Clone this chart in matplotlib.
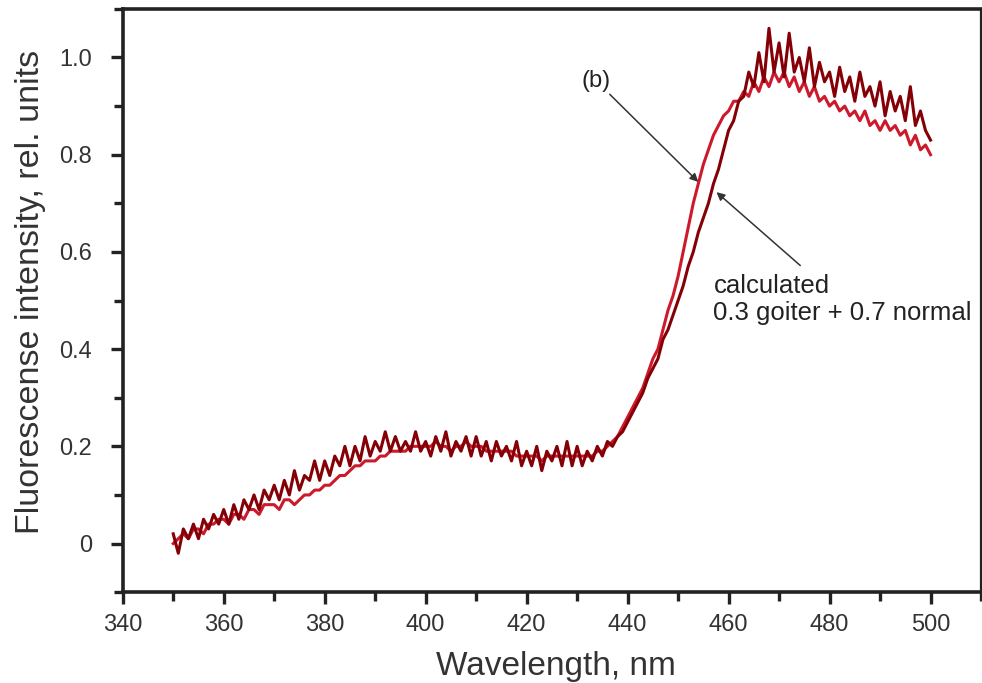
import numpy as np
import matplotlib
matplotlib.use('Agg')
import matplotlib.pyplot as plt
from matplotlib.ticker import MultipleLocator, FuncFormatter

plt.rcParams['font.family'] = ['Liberation Sans', 'DejaVu Sans']

# wavelength grid, nm (1 nm steps, 350..500)
wavelength = np.arange(350, 501, 1)

measured = [
    0.02, -0.02, 0.03, 0.01, 0.04, 0.01, 0.05, 0.03, 0.06, 0.04,
    0.07, 0.04, 0.08, 0.05, 0.09, 0.07, 0.10, 0.07, 0.11, 0.09,
    0.12, 0.09, 0.13, 0.10, 0.15, 0.11, 0.14, 0.13, 0.17, 0.13,
    0.17, 0.14, 0.18, 0.16, 0.20, 0.16, 0.20, 0.17, 0.22, 0.18,
    0.21, 0.19, 0.23, 0.19, 0.22, 0.19, 0.21, 0.19, 0.23, 0.19,
    0.21, 0.18, 0.22, 0.19, 0.23, 0.18, 0.21, 0.19, 0.22, 0.18,
    0.22, 0.18, 0.21, 0.17, 0.21, 0.18, 0.20, 0.17, 0.21, 0.16,
    0.19, 0.16, 0.20, 0.15, 0.19, 0.17, 0.20, 0.16, 0.21, 0.16,
    0.20, 0.16, 0.19, 0.17, 0.20, 0.18, 0.21, 0.20, 0.22, 0.23,
    0.25, 0.27, 0.29, 0.31, 0.34, 0.36, 0.38, 0.42, 0.44, 0.47,
    0.50, 0.53, 0.57, 0.60, 0.64, 0.67, 0.70, 0.74, 0.77, 0.81,
    0.85, 0.87, 0.91, 0.92, 0.97, 0.94, 1.01, 0.95, 1.06, 0.97,
    1.03, 0.96, 1.05, 0.97, 1.00, 0.95, 1.02, 0.94, 0.99, 0.95,
    0.97, 0.92, 0.98, 0.93, 0.96, 0.91, 0.97, 0.92, 0.94, 0.90,
    0.95, 0.88, 0.93, 0.89, 0.92, 0.87, 0.94, 0.86, 0.89, 0.85,
    0.83,
]

# calculated spectrum: 0.3 goiter + 0.7 normal
calculated = [
    0.00, 0.01, 0.02, 0.01, 0.03, 0.03, 0.02, 0.04, 0.04, 0.05,
    0.05, 0.04, 0.06, 0.06, 0.05, 0.07, 0.07, 0.06, 0.08, 0.08,
    0.08, 0.07, 0.09, 0.09, 0.08, 0.09, 0.10, 0.10, 0.11, 0.11,
    0.12, 0.12, 0.13, 0.14, 0.14, 0.15, 0.16, 0.16, 0.17, 0.17,
    0.17, 0.18, 0.18, 0.19, 0.19, 0.19, 0.19, 0.20, 0.20, 0.20,
    0.20, 0.20, 0.21, 0.20, 0.20, 0.19, 0.20, 0.20, 0.21, 0.20,
    0.20, 0.20, 0.19, 0.19, 0.19, 0.19, 0.19, 0.19, 0.18, 0.18,
    0.18, 0.18, 0.18, 0.17, 0.18, 0.18, 0.18, 0.18, 0.18, 0.18,
    0.18, 0.18, 0.18, 0.18, 0.19, 0.19, 0.20, 0.21, 0.22, 0.24,
    0.26, 0.28, 0.30, 0.32, 0.35, 0.38, 0.40, 0.44, 0.48, 0.51,
    0.55, 0.60, 0.65, 0.70, 0.74, 0.78, 0.81, 0.84, 0.86, 0.88,
    0.89, 0.91, 0.91, 0.93, 0.92, 0.95, 0.93, 0.96, 0.94, 0.97,
    0.95, 0.97, 0.94, 0.96, 0.93, 0.95, 0.92, 0.94, 0.91, 0.92,
    0.90, 0.91, 0.89, 0.90, 0.88, 0.89, 0.87, 0.89, 0.86, 0.87,
    0.85, 0.87, 0.85, 0.86, 0.84, 0.85, 0.82, 0.84, 0.81, 0.82,
    0.80,
]

fig = plt.figure(figsize=(9.82, 6.83), dpi=100)
ax = fig.add_axes([0.125, 0.133, 0.874, 0.854])

ax.plot(wavelength, calculated, color='#cc1a2c', lw=2.2, zorder=2)
ax.plot(wavelength, measured, color='#850006', lw=2.2, zorder=3)

ax.set_xlim(340, 510)
ax.set_ylim(-0.1, 1.1)

ax.xaxis.set_major_locator(MultipleLocator(20))
ax.xaxis.set_minor_locator(MultipleLocator(10))
ax.yaxis.set_major_locator(MultipleLocator(0.2))
ax.yaxis.set_minor_locator(MultipleLocator(0.1))
ax.yaxis.set_major_formatter(FuncFormatter(lambda v, p: '0' if abs(v) < 1e-9 else '%.1f' % v))

ax.tick_params(which='both', direction='out', colors='#222222', width=2.4,
               labelsize=17, labelcolor='#333333', top=False, right=False)
ax.tick_params(which='major', length=8.5)
ax.tick_params(which='minor', length=6.5)
ax.tick_params(axis='x', which='major', pad=7)
ax.tick_params(axis='y', which='major', pad=13.5)
for side in ['left', 'bottom', 'top']:
    ax.spines[side].set_linewidth(2.6)
    ax.spines[side].set_color('#222222')
ax.spines['right'].set_linewidth(1.6)
ax.spines['right'].set_color('#222222')

ax.set_xlabel('Wavelength, nm', fontsize=24, color='#333333', va='center')
ax.set_ylabel('Fluorescense intensity, rel. units', fontsize=24.5, color='#333333',
              va='center', ha='center')
ax.xaxis.set_label_coords(0.505, -0.128)
ax.yaxis.set_label_coords(-0.107, 0.515)

arrow = dict(arrowstyle='-|>', color='#333333', lw=1.1, mutation_scale=12, shrinkA=0, shrinkB=0)
ax.annotate('(b)', xy=(454.0, 0.744), xytext=(433.7, 0.93), fontsize=17, color='#222222',
            ha='center', va='bottom', arrowprops=arrow)
ax.annotate('', xy=(457.6, 0.723), xytext=(474.2, 0.572), arrowprops=arrow)
ax.text(457.0, 0.555, 'calculated\n0.3 goiter + 0.7 normal', fontsize=18.5, color='#222222',
        ha='left', va='top', linespacing=1.15)

fig.savefig('out.png', dpi=100)
